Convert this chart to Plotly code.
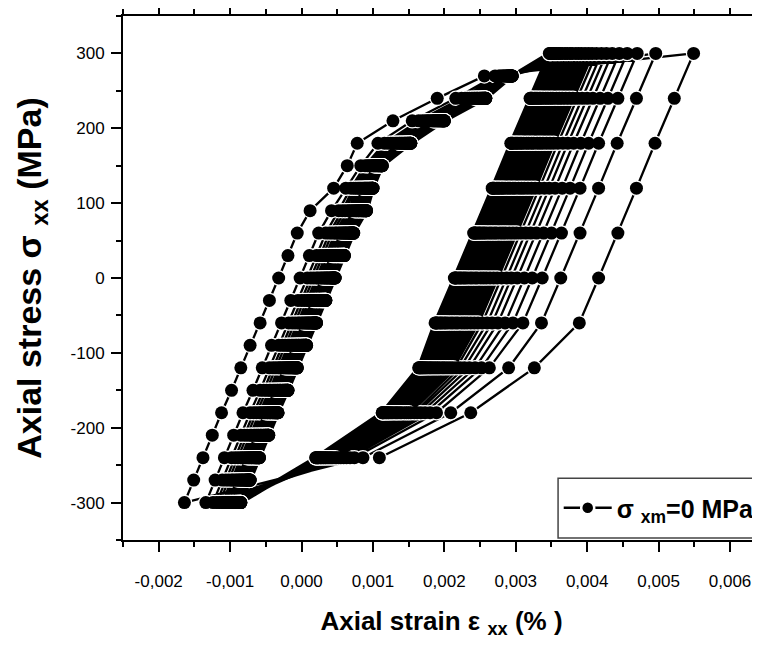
import plotly.graph_objects as go

# ---------------- data (strain in units of 1e-3 %) ----------------
# cycles ordered from the first (widest) loop to the stabilised loop
loading_levels = [-240, -180, -120, -60, 0, 60, 120, 180, 240, 300]
unloading_levels = [270, 240, 210, 180, 150, 120, 90, 60, 30, 0,
                    -30, -60, -90, -120, -150, -180, -210, -240, -270, -300]

load_m240 = [1.09, 0.86, 0.74, 0.68, 0.63, 0.59, 0.55, 0.52, 0.49, 0.47, 0.44, 0.42, 0.40, 0.38, 0.36, 0.34, 0.33, 0.31, 0.30, 0.28, 0.27, 0.26, 0.24, 0.23, 0.23, 0.22, 0.21, 0.20, 0.20]
load_m180 = [2.37, 2.09, 1.89, 1.80, 1.73, 1.67, 1.62, 1.58, 1.53, 1.50, 1.47, 1.44, 1.40, 1.38, 1.35, 1.33, 1.31, 1.28, 1.26, 1.24, 1.22, 1.21, 1.19, 1.18, 1.16, 1.15, 1.14, 1.13, 1.13]
load_m120 = [3.26, 2.90, 2.63, 2.52, 2.43, 2.35, 2.28, 2.22, 2.17, 2.12, 2.08, 2.04, 2.00, 1.97, 1.93, 1.90, 1.87, 1.84, 1.81, 1.79, 1.76, 1.74, 1.72, 1.70, 1.69, 1.67, 1.66, 1.65, 1.64]
load_m60 = [3.89, 3.36, 3.10, 2.96, 2.85, 2.75, 2.67, 2.60, 2.53, 2.47, 2.42, 2.37, 2.32, 2.28, 2.24, 2.19, 2.16, 2.12, 2.09, 2.05, 2.02, 2.00, 1.97, 1.95, 1.93, 1.90, 1.89, 1.88, 1.87]
load_0 = [4.16, 3.63, 3.37, 3.23, 3.12, 3.02, 2.94, 2.87, 2.80, 2.74, 2.69, 2.64, 2.59, 2.55, 2.51, 2.46, 2.43, 2.39, 2.36, 2.32, 2.29, 2.27, 2.24, 2.22, 2.20, 2.17, 2.16, 2.15, 2.14]
load_60 = [4.43, 3.90, 3.64, 3.50, 3.39, 3.29, 3.21, 3.14, 3.07, 3.01, 2.96, 2.91, 2.86, 2.82, 2.78, 2.73, 2.70, 2.66, 2.63, 2.59, 2.56, 2.54, 2.51, 2.49, 2.47, 2.44, 2.43, 2.42, 2.41]
load_120 = [4.69, 4.16, 3.90, 3.76, 3.65, 3.55, 3.47, 3.40, 3.33, 3.27, 3.22, 3.17, 3.12, 3.08, 3.04, 2.99, 2.96, 2.92, 2.89, 2.85, 2.82, 2.80, 2.77, 2.75, 2.73, 2.70, 2.69, 2.68, 2.67]
load_180 = [4.95, 4.42, 4.16, 4.02, 3.91, 3.81, 3.73, 3.66, 3.59, 3.53, 3.48, 3.43, 3.38, 3.34, 3.30, 3.25, 3.22, 3.18, 3.15, 3.11, 3.08, 3.06, 3.03, 3.01, 2.99, 2.96, 2.95, 2.94, 2.93]
load_240 = [5.22, 4.69, 4.43, 4.29, 4.18, 4.08, 4.00, 3.93, 3.86, 3.80, 3.75, 3.70, 3.65, 3.61, 3.57, 3.52, 3.49, 3.45, 3.42, 3.38, 3.35, 3.33, 3.30, 3.28, 3.26, 3.23, 3.22, 3.21, 3.20]
load_300 = [5.49, 4.96, 4.70, 4.56, 4.45, 4.35, 4.27, 4.20, 4.13, 4.07, 4.02, 3.97, 3.92, 3.88, 3.84, 3.79, 3.76, 3.72, 3.69, 3.65, 3.62, 3.60, 3.57, 3.55, 3.53, 3.50, 3.49, 3.48, 3.47]

unl_270 = [2.56, 2.71, 2.76, 2.78, 2.80, 2.82, 2.83, 2.84, 2.86, 2.87, 2.87, 2.88, 2.89, 2.90, 2.90, 2.91, 2.91, 2.92, 2.92, 2.93, 2.93, 2.94, 2.94, 2.94, 2.94, 2.95, 2.95, 2.95, 2.95]
unl_240 = [1.90, 2.16, 2.24, 2.29, 2.32, 2.35, 2.38, 2.40, 2.42, 2.43, 2.45, 2.46, 2.47, 2.49, 2.50, 2.51, 2.52, 2.53, 2.53, 2.54, 2.55, 2.55, 2.56, 2.56, 2.57, 2.57, 2.58, 2.58, 2.58]
unl_210 = [1.28, 1.55, 1.64, 1.69, 1.73, 1.76, 1.78, 1.81, 1.83, 1.85, 1.86, 1.87, 1.89, 1.90, 1.91, 1.92, 1.93, 1.94, 1.95, 1.96, 1.97, 1.97, 1.98, 1.98, 1.99, 1.99, 2.00, 2.00, 2.00]
unl_180 = [0.78, 1.07, 1.16, 1.21, 1.25, 1.28, 1.31, 1.33, 1.35, 1.37, 1.38, 1.40, 1.41, 1.43, 1.44, 1.45, 1.46, 1.47, 1.48, 1.49, 1.49, 1.50, 1.51, 1.51, 1.52, 1.52, 1.53, 1.53, 1.53]
unl_150 = [0.64, 0.83, 0.89, 0.92, 0.94, 0.97, 0.98, 1.00, 1.01, 1.02, 1.03, 1.04, 1.05, 1.06, 1.07, 1.08, 1.08, 1.09, 1.10, 1.10, 1.11, 1.11, 1.12, 1.12, 1.12, 1.12, 1.13, 1.13, 1.13]
unl_120 = [0.45, 0.62, 0.69, 0.73, 0.76, 0.79, 0.81, 0.83, 0.85, 0.87, 0.88, 0.89, 0.90, 0.91, 0.92, 0.93, 0.94, 0.95, 0.96, 0.96, 0.97, 0.98, 0.98, 0.99, 0.99, 0.99, 1.00, 1.00, 1.00]
unl_90 = [0.12, 0.42, 0.52, 0.57, 0.61, 0.65, 0.67, 0.70, 0.72, 0.74, 0.76, 0.77, 0.79, 0.80, 0.81, 0.83, 0.84, 0.85, 0.86, 0.87, 0.87, 0.88, 0.89, 0.89, 0.90, 0.90, 0.91, 0.91, 0.91]
unl_60 = [-0.06, 0.24, 0.34, 0.39, 0.43, 0.47, 0.49, 0.52, 0.54, 0.56, 0.58, 0.59, 0.61, 0.62, 0.63, 0.65, 0.66, 0.67, 0.68, 0.69, 0.69, 0.70, 0.71, 0.71, 0.72, 0.72, 0.73, 0.73, 0.73]
unl_30 = [-0.19, 0.11, 0.21, 0.26, 0.30, 0.34, 0.36, 0.39, 0.41, 0.43, 0.45, 0.46, 0.48, 0.49, 0.50, 0.52, 0.53, 0.54, 0.55, 0.56, 0.56, 0.57, 0.58, 0.58, 0.59, 0.59, 0.60, 0.60, 0.60]
unl_0 = [-0.32, -0.02, 0.08, 0.13, 0.17, 0.21, 0.23, 0.26, 0.28, 0.30, 0.32, 0.33, 0.35, 0.36, 0.37, 0.39, 0.40, 0.41, 0.42, 0.43, 0.43, 0.44, 0.45, 0.45, 0.46, 0.46, 0.47, 0.47, 0.47]
unl_m30 = [-0.45, -0.15, -0.05, 0.00, 0.04, 0.08, 0.10, 0.13, 0.15, 0.17, 0.19, 0.20, 0.22, 0.23, 0.24, 0.26, 0.27, 0.28, 0.29, 0.30, 0.30, 0.31, 0.32, 0.32, 0.33, 0.33, 0.34, 0.34, 0.34]
unl_m60 = [-0.58, -0.28, -0.18, -0.13, -0.09, -0.05, -0.03, 0.00, 0.02, 0.04, 0.06, 0.07, 0.09, 0.10, 0.11, 0.13, 0.14, 0.15, 0.16, 0.17, 0.17, 0.18, 0.19, 0.19, 0.20, 0.20, 0.21, 0.21, 0.21]
unl_m90 = [-0.72, -0.42, -0.32, -0.27, -0.23, -0.19, -0.17, -0.14, -0.12, -0.10, -0.08, -0.07, -0.05, -0.04, -0.03, -0.01, 0.00, 0.01, 0.02, 0.03, 0.03, 0.04, 0.05, 0.05, 0.06, 0.06, 0.07, 0.07, 0.07]
unl_m120 = [-0.85, -0.55, -0.45, -0.40, -0.36, -0.32, -0.30, -0.27, -0.25, -0.23, -0.21, -0.20, -0.18, -0.17, -0.16, -0.14, -0.13, -0.12, -0.11, -0.10, -0.10, -0.09, -0.08, -0.08, -0.07, -0.07, -0.06, -0.06, -0.06]
unl_m150 = [-0.98, -0.68, -0.58, -0.53, -0.49, -0.45, -0.43, -0.40, -0.38, -0.36, -0.34, -0.33, -0.31, -0.30, -0.29, -0.27, -0.26, -0.25, -0.24, -0.23, -0.23, -0.22, -0.21, -0.21, -0.20, -0.20, -0.19, -0.19, -0.19]
unl_m180 = [-1.12, -0.82, -0.72, -0.67, -0.63, -0.59, -0.57, -0.54, -0.52, -0.50, -0.48, -0.47, -0.45, -0.44, -0.43, -0.41, -0.40, -0.39, -0.38, -0.37, -0.37, -0.36, -0.35, -0.35, -0.34, -0.34, -0.33, -0.33, -0.33]
unl_m210 = [-1.25, -0.95, -0.85, -0.80, -0.76, -0.72, -0.70, -0.67, -0.65, -0.63, -0.61, -0.60, -0.58, -0.57, -0.56, -0.54, -0.53, -0.52, -0.51, -0.50, -0.50, -0.49, -0.48, -0.48, -0.47, -0.47, -0.46, -0.46, -0.46]
unl_m240 = [-1.38, -1.08, -0.98, -0.93, -0.89, -0.85, -0.83, -0.80, -0.78, -0.76, -0.74, -0.73, -0.71, -0.70, -0.69, -0.67, -0.66, -0.65, -0.64, -0.63, -0.63, -0.62, -0.61, -0.61, -0.60, -0.60, -0.59, -0.59, -0.59]
unl_m270 = [-1.51, -1.21, -1.11, -1.06, -1.02, -0.98, -0.96, -0.93, -0.91, -0.89, -0.87, -0.86, -0.84, -0.83, -0.82, -0.80, -0.79, -0.78, -0.77, -0.76, -0.76, -0.75, -0.74, -0.74, -0.73, -0.73, -0.72, -0.72, -0.72]
unl_m300 = [-1.64, -1.34, -1.24, -1.19, -1.15, -1.11, -1.09, -1.06, -1.04, -1.02, -1.00, -0.99, -0.97, -0.96, -0.95, -0.93, -0.92, -0.91, -0.90, -0.89, -0.89, -0.88, -0.87, -0.87, -0.86, -0.86, -0.85, -0.85, -0.85]

loading_strain = [load_m240, load_m180, load_m120, load_m60, load_0,
                  load_60, load_120, load_180, load_240, load_300]
unloading_strain = [unl_270, unl_240, unl_210, unl_180, unl_150, unl_120, unl_90,
                    unl_60, unl_30, unl_0, unl_m30, unl_m60, unl_m90, unl_m120,
                    unl_m150, unl_m180, unl_m210, unl_m240, unl_m270, unl_m300]

x_tick_vals = [-0.002, -0.001, 0.000, 0.001, 0.002, 0.003, 0.004, 0.005, 0.006]
x_tick_text = ["-0,002", "-0,001", "0,000", "0,001", "0,002", "0,003", "0,004", "0,005", "0,006"]
y_tick_vals = [-300, -200, -100, 0, 100, 200, 300]
y_tick_text = ["-300", "-200", "-100", "0", "100", "200", "300"]

# ---------------- build the cyclic path ----------------
xs, ys = [], []
n_cycles = len(load_300)
for k in range(n_cycles):
    for lev, arr in zip(loading_levels, loading_strain):
        xs.append(arr[k] * 1e-3)
        ys.append(lev)
    for lev, arr in zip(unloading_levels, unloading_strain):
        xs.append(arr[k] * 1e-3)
        ys.append(lev)

pts_per_cycle = len(loading_levels) + len(unloading_levels)
split = 9 * pts_per_cycle          # first 9 loops are drawn distinctly, later ones pile up

FONT = "Arial, Liberation Sans, sans-serif"
fig = go.Figure()
# lines with white "gaps" around every symbol (Origin style)
fig.add_trace(go.Scatter(x=xs[:split + 1], y=ys[:split + 1], mode="lines+markers",
                         line=dict(color="black", width=2.3),
                         marker=dict(color="white", size=15.5, line=dict(width=0)),
                         showlegend=False, hoverinfo="skip"))
fig.add_trace(go.Scatter(x=xs[split:], y=ys[split:], mode="lines+markers",
                         line=dict(color="black", width=4),
                         marker=dict(color="white", size=15.5, line=dict(width=0)),
                         showlegend=False, hoverinfo="skip"))
fig.add_trace(go.Scatter(x=xs, y=ys, mode="markers",
                         marker=dict(color="black", size=13, line=dict(width=0)),
                         showlegend=False))
# legend entry
fig.add_trace(go.Scatter(x=[None], y=[None], mode="lines+markers",
                         line=dict(color="black", width=2.5),
                         marker=dict(color="black", size=13, line=dict(color="white", width=2.5)),
                         name="<b>σ <sub>xm</sub>=0 MPa</b>"))

axis_common = dict(showline=True, linecolor="black", linewidth=2, showgrid=False,
                   zeroline=False, ticks="outside", ticklen=10, tickwidth=2,
                   automargin=False, tickcolor="black",
                   tickfont=dict(family=FONT, size=17, color="black"))

# legend frame (Origin-like box, runs past the right edge of the picture)
fig.add_shape(type="rect", xref="paper", yref="paper",
              x0=0.683, x1=1.08, y0=0.004, y1=0.118,
              line=dict(color="#444", width=1.5), fillcolor="white", layer="above")

# the page body adds an 8 px offset, so the figure is 8 px smaller and margins shifted
fig.update_layout(
    width=752, height=647,
    margin=dict(l=115, r=0, t=8, b=115, autoexpand=False),
    paper_bgcolor="white", plot_bgcolor="white",
    font=dict(family=FONT, color="black"),
    xaxis=dict(range=[-0.0025, 0.00642], tickmode="array", tickvals=x_tick_vals,
               ticktext=x_tick_text, mirror="ticks", ticklabelstandoff=15,
               minor=dict(tickmode="linear", tick0=0, dtick=0.0005, ticks="outside",
                          ticklen=5, tickwidth=2, tickcolor="black"),
               title=dict(text="<b>Axial strain ε <sub>xx</sub> (% )</b>",
                          font=dict(family=FONT, size=26, color="black"), standoff=21),
               **axis_common),
    yaxis=dict(range=[-350, 350], tickmode="array", tickvals=y_tick_vals,
               ticktext=y_tick_text, mirror=False, ticklabelstandoff=3,
               minor=dict(tickmode="linear", tick0=0, dtick=50, ticks="outside",
                          ticklen=5, tickwidth=2, tickcolor="black"),
               title=dict(text="<b>Axial stress σ <sub>xx</sub> (MPa)</b>",
                          font=dict(family=FONT, size=34, color="black"), standoff=19),
               **axis_common),
    legend=dict(x=0.684, y=0.061, xanchor="left", yanchor="middle",
                bgcolor="rgba(0,0,0,0)", borderwidth=0,
                font=dict(family=FONT, size=25, color="black"), itemwidth=48),
)

fig.write_html("out.html")
